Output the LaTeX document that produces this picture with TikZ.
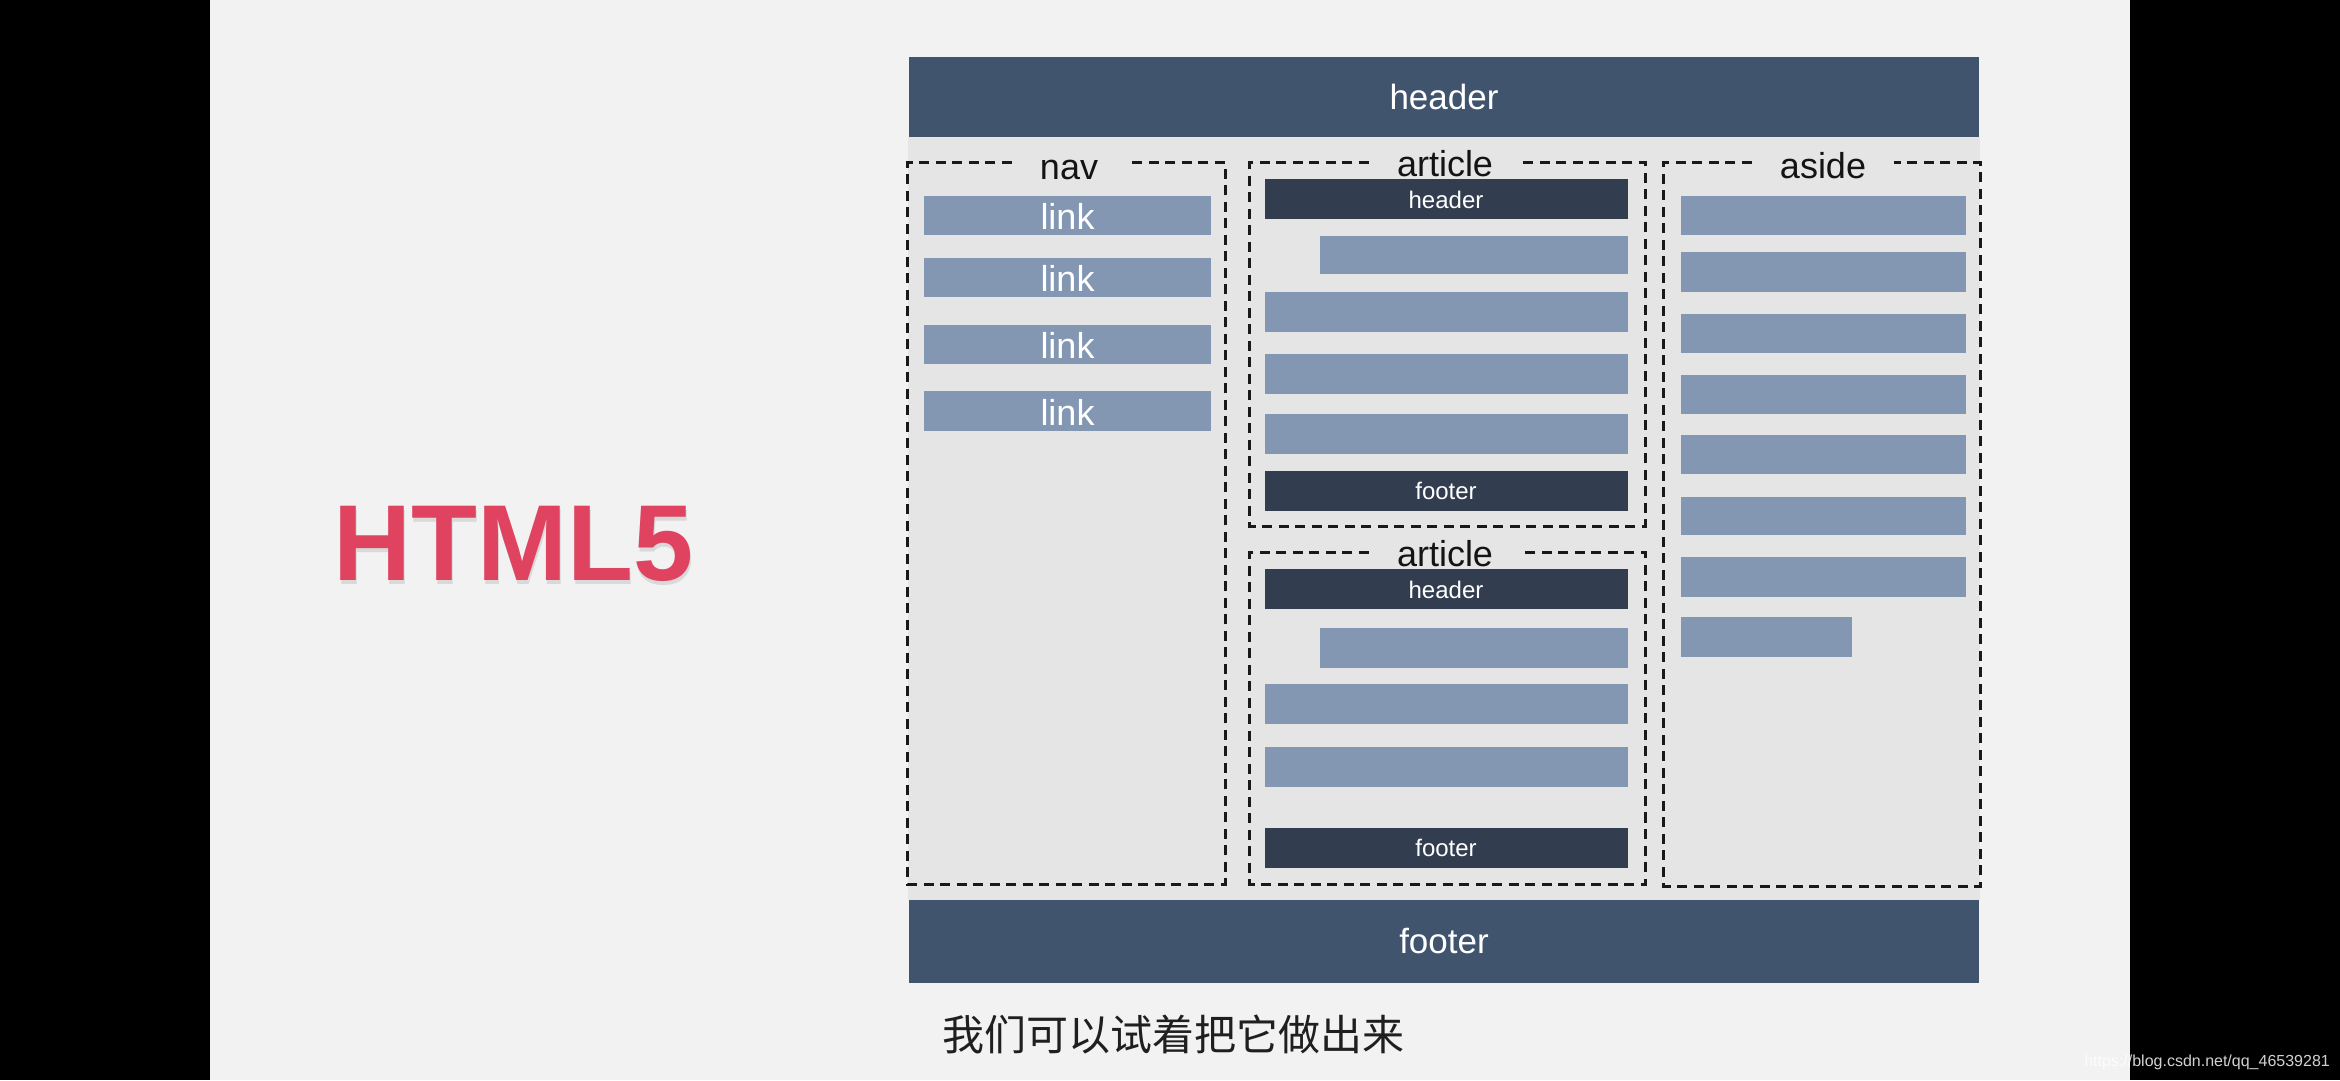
\documentclass[tikz,border=0pt]{standalone}
\usepackage{fontspec}
\setmainfont{Liberation Sans}
\newfontfamily\cjkfont{Noto Sans CJK SC}
\usetikzlibrary{fit}
\definecolor{pagebg}{HTML}{F2F2F2}
\definecolor{innerbg}{HTML}{E6E5E6}
\definecolor{hdrcol}{HTML}{41546E}
\definecolor{darkcol}{HTML}{333D50}
\definecolor{lightcol}{HTML}{8397B3}
\definecolor{titlecol}{HTML}{E0435F}
\tikzset{
  bigbar/.style={fill=hdrcol, inner sep=0pt, text=white, font=\fontsize{35}{40}\selectfont},
  darkbar/.style={fill=darkcol, inner sep=0pt, text=white, font=\fontsize{24}{28}\selectfont},
  lightbar/.style={fill=lightcol, inner sep=0pt, text=white, font=\fontsize{36}{40}\selectfont},
  zone/.style={inner sep=0pt},
  zonelabel/.style={font=\fontsize{36}{40}\selectfont, text=black!92, inner xsep=28pt, inner ysep=0pt, anchor=base},
  dashbox/.style={draw=black!90, line width=3pt, dash pattern=on 10pt off 6.5pt},
  linktext/.style={text=white, font=\fontsize{36}{40}\selectfont, inner sep=0pt, anchor=base},
}
\begin{document}
\begin{tikzpicture}[x=1pt,y=-1pt]
\useasboundingbox (0,0) rectangle (2340,1080);
\fill[black] (0,0) rectangle (210,1080);
\fill[pagebg] (210,0) rectangle (2130,1080);
\fill[black] (2130,0) rectangle (2340,1080);
\fill[innerbg] (908,137) rectangle (1980,900);

% title
\node[anchor=base west, font=\bfseries\fontsize{108}{116}\selectfont, text=black, opacity=0.10, inner sep=0pt] (titleshadow) at (334,584) {HTML5};
\node[anchor=base west, font=\bfseries\fontsize{108}{116}\selectfont, text=titlecol, inner sep=0pt] (title) at (333,580) {HTML5};

% page header / footer
\node[bigbar, fit={(909,57) (1979,137)}] (pagehdr) {};
\node[text=white, font=\fontsize{35}{40}\selectfont, anchor=base] (pagehdrtxt) at (1444,109) {header};
\node[bigbar, fit={(909,900) (1979,983)}] (pageftr) {};
\node[text=white, font=\fontsize{35}{40}\selectfont, anchor=base] (pageftrtxt) at (1444,953) {footer};

% nav
\node[zone, fit={(908,163) (1225,884)}] (nav) {};
\node[zonelabel] (navlbl) at (1069,179) {nav};
\draw[dashbox] (navlbl.west |- nav.north) -- (nav.north west) -- (nav.south west) -- (nav.south east) -- (nav.north east) -- (navlbl.east |- nav.north);
\node[lightbar, fit={(924,196) (1211,235)}] (link1) {};
\node[lightbar, fit={(924,258) (1211,297)}] (link2) {};
\node[lightbar, fit={(924,325) (1211,364)}] (link3) {};
\node[lightbar, fit={(924,391) (1211,431)}] (link4) {};
\foreach \n in {1,2,3,4}{
  \node[linktext] (linktxt\n) at ([yshift=6pt]link\n.south) {link};
}

% article 1
\node[zone, fit={(1250,163) (1645,526)}] (art1) {};
\node[zonelabel] (art1lbl) at (1445,176) {article};
\draw[dashbox] (art1lbl.west |- art1.north) -- (art1.north west) -- (art1.south west) -- (art1.south east) -- (art1.north east) -- (art1lbl.east |- art1.north);
\node[darkbar, fit={(1265,179) (1628,219)}] (art1hdr) {};
\node[text=white, font=\fontsize{24}{28}\selectfont, anchor=base] (art1hdrtxt) at (1446,208) {header};
\node[lightbar, fit={(1320,236) (1628,274)}] (art1b1) {};
\node[lightbar, fit={(1265,292) (1628,332)}] (art1b2) {};
\node[lightbar, fit={(1265,354) (1628,394)}] (art1b3) {};
\node[lightbar, fit={(1265,414) (1628,454)}] (art1b4) {};
\node[darkbar, fit={(1265,471) (1628,511)}] (art1ftr) {};
\node[text=white, font=\fontsize{24}{28}\selectfont, anchor=base] (art1ftrtxt) at (1446,499) {footer};

% article 2
\node[zone, fit={(1250,553) (1645,884)}] (art2) {};
\node[zonelabel] (art2lbl) at (1445,566) {article};
\draw[dashbox] (art2lbl.west |- art2.north) -- (art2.north west) -- (art2.south west) -- (art2.south east) -- (art2.north east) -- (art2lbl.east |- art2.north);
\node[darkbar, fit={(1265,569) (1628,609)}] (art2hdr) {};
\node[text=white, font=\fontsize{24}{28}\selectfont, anchor=base] (art2hdrtxt) at (1446,598) {header};
\node[lightbar, fit={(1320,628) (1628,668)}] (art2b1) {};
\node[lightbar, fit={(1265,684) (1628,724)}] (art2b2) {};
\node[lightbar, fit={(1265,747) (1628,787)}] (art2b3) {};
\node[darkbar, fit={(1265,828) (1628,868)}] (art2ftr) {};
\node[text=white, font=\fontsize{24}{28}\selectfont, anchor=base] (art2ftrtxt) at (1446,856) {footer};

% aside
\node[zone, fit={(1664,163) (1980,886)}] (aside) {};
\node[zonelabel] (asidelbl) at (1823,178) {aside};
\draw[dashbox] (asidelbl.west |- aside.north) -- (aside.north west) -- (aside.south west) -- (aside.south east) -- (aside.north east) -- (asidelbl.east |- aside.north);
\node[lightbar, fit={(1681,196) (1966,235)}] (as1) {};
\node[lightbar, fit={(1681,252) (1966,292)}] (as2) {};
\node[lightbar, fit={(1681,314) (1966,353)}] (as3) {};
\node[lightbar, fit={(1681,375) (1966,414)}] (as4) {};
\node[lightbar, fit={(1681,435) (1966,474)}] (as5) {};
\node[lightbar, fit={(1681,497) (1966,535)}] (as6) {};
\node[lightbar, fit={(1681,557) (1966,597)}] (as7) {};
\node[lightbar, fit={(1681,617) (1852,657)}] (as8) {};

% subtitle
\node[anchor=base west, inner sep=0pt, text=black!88, font=\cjkfont\fontsize{42}{46}\selectfont] (subtitle) at (942,1050) {我们可以试着把它做出来};

% watermark
\node[anchor=base east, inner sep=0pt, text=white, opacity=0.82, font=\fontsize{16}{18}\selectfont] (watermark) at (2330,1066) {https://blog.csdn.net/qq\_46539281};
\end{tikzpicture}
\end{document}
